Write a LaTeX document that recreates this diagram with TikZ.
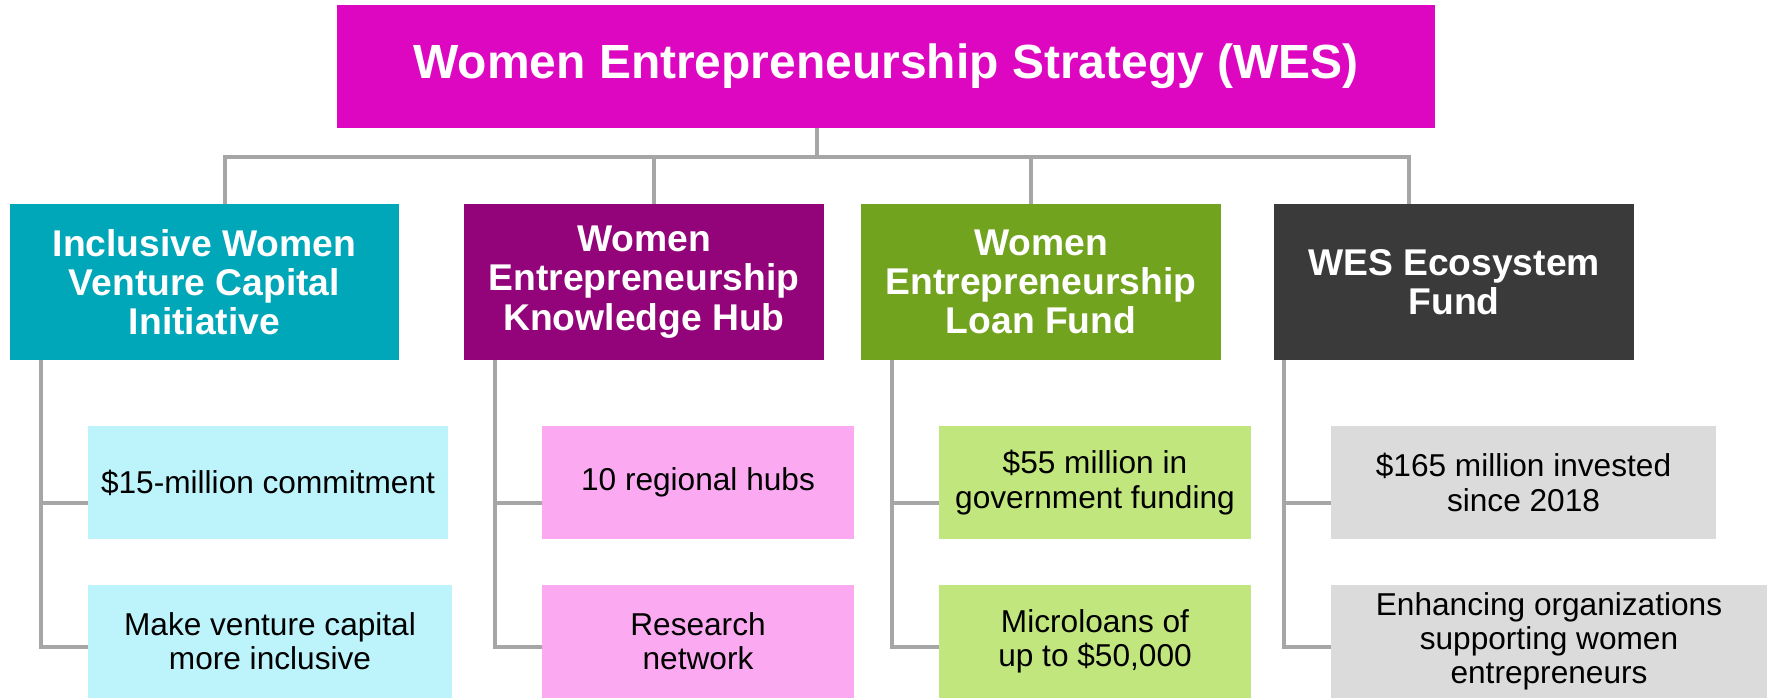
\documentclass[tikz,border=0pt]{standalone}
\usepackage{fontspec}
\setmainfont{Liberation Sans}

\definecolor{wesmagenta}{HTML}{DE07C1}
\definecolor{ivcteal}{HTML}{00A7B8}
\definecolor{hubpurple}{HTML}{93037A}
\definecolor{loanolive}{HTML}{72A31F}
\definecolor{ecodark}{HTML}{3A3A3A}
\definecolor{ivcleaf}{HTML}{BDF4FC}
\definecolor{hubleaf}{HTML}{FBAAF1}
\definecolor{loanleaf}{HTML}{C1E67D}
\definecolor{ecoleaf}{HTML}{DBDBDB}
\definecolor{linkgray}{HTML}{A6A6A6}

\begin{document}
\begin{tikzpicture}[x=0.02cm, y=-0.02cm,
    head/.style={fill=wesmagenta, text=white, font=\fontsize{27.3}{32}\selectfont\bfseries,
      minimum width=21.96cm, minimum height=2.46cm, inner sep=0pt},
    pillar/.style={text=white, font=\fontsize{21.2}{22.3}\selectfont\bfseries,
      minimum height=3.12cm, align=center, inner sep=0pt},
    leaf/.style={font=\fontsize{18}{19.5}\selectfont,
      minimum height=2.26cm, align=center, inner sep=0pt},
    link/.style={draw=linkgray, line width=1.75pt}]

  \useasboundingbox (0,0) rectangle (1767,697);

  % Strategy box on top
  \node[head] (wes) at (886,66.5) {Women Entrepreneurship Strategy (WES)};

  % The four pillars
  \node[pillar, fill=ivcteal, minimum width=7.78cm] (ivc) at (204.5,282) {Inclusive Women\\Venture Capital\\Initiative};
  \node[pillar, fill=hubpurple, minimum width=7.2cm] (hub) at (644,282) {Women\\Entrepreneurship\\Knowledge Hub};
  \node[pillar, fill=loanolive, minimum width=7.2cm] (loan) at (1041,282) {Women\\Entrepreneurship\\Loan Fund};
  \node[pillar, fill=ecodark, minimum width=7.2cm] (eco) at (1454,282) {WES Ecosystem\\Fund};

  % Facts under each pillar
  \node[leaf, fill=ivcleaf, minimum width=7.2cm] (ivcA) at (268,482.5) {\$15-million commitment};
  \node[leaf, fill=ivcleaf, minimum width=7.28cm] (ivcB) at (270,641.5) {Make venture capital\\more inclusive};
  \node[leaf, fill=hubleaf, minimum width=6.24cm] (hubA) at (698,482.5) {10 regional hubs};
  \node[leaf, fill=hubleaf, minimum width=6.24cm] (hubB) at (698,641.5) {Research\\network};
  \node[leaf, fill=loanleaf, minimum width=6.24cm] (loanA) at (1095,482.5) {\$55 million in\\government funding};
  \node[leaf, fill=loanleaf, minimum width=6.24cm] (loanB) at (1095,641.5) {Microloans of\\up to \$50,000};
  \node[leaf, fill=ecoleaf, minimum width=7.7cm] (ecoA) at (1523.5,482.5) {\$165 million invested\\since 2018};
  \node[leaf, fill=ecoleaf, minimum width=8.72cm] (ecoB) at (1549,641.5) {Enhancing organizations\\supporting women\\entrepreneurs};

  % Bus between the strategy and the pillars
  \coordinate (bus) at (817,157);
  \coordinate (d1) at (225,157);
  \coordinate (d2) at (654,157);
  \coordinate (d3) at (1031,157);
  \coordinate (d4) at (1409,157);
  \draw[link] (wes.south -| bus) -- (bus);
  \draw[link] (d1 |- ivc.north) -- (d1) -- (d4) -- (d4 |- eco.north);
  \draw[link] (d2) -- (d2 |- hub.north);
  \draw[link] (d3) -- (d3 |- loan.north);

  % Spines down the left of each pillar
  \coordinate (s1) at (41,0);
  \coordinate (s2) at (495,0);
  \coordinate (s3) at (892,0);
  \coordinate (s4) at (1284,0);

  \draw[link] (ivc.south -| s1) |- ([yshift=-0.11cm]ivcB.west);
  \draw[link] ([yshift=-0.41cm]ivcA.west) -- ([yshift=-0.41cm]ivcA.west -| s1);

  \draw[link] (hub.south -| s2) |- ([yshift=-0.11cm]hubB.west);
  \draw[link] ([yshift=-0.41cm]hubA.west) -- ([yshift=-0.41cm]hubA.west -| s2);

  \draw[link] (loan.south -| s3) |- ([yshift=-0.11cm]loanB.west);
  \draw[link] ([yshift=-0.41cm]loanA.west) -- ([yshift=-0.41cm]loanA.west -| s3);

  \draw[link] (eco.south -| s4) |- ([yshift=-0.11cm]ecoB.west);
  \draw[link] ([yshift=-0.41cm]ecoA.west) -- ([yshift=-0.41cm]ecoA.west -| s4);

\end{tikzpicture}
\end{document}
